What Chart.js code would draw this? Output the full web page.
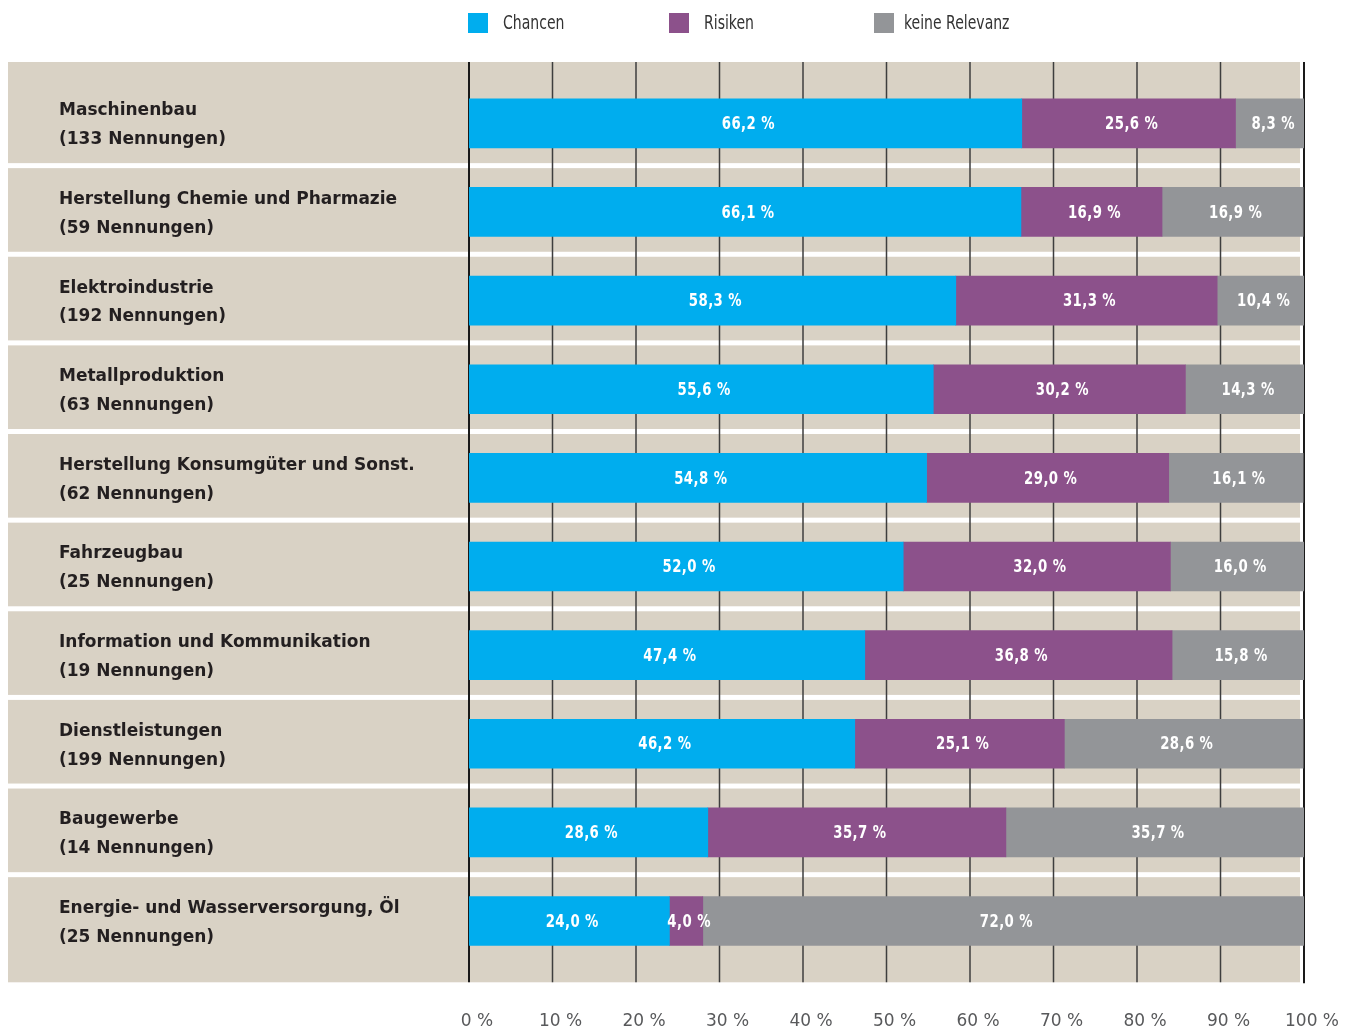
<!DOCTYPE html>
<html>
<head>
<meta charset="utf-8">
<script src="https://cdn.jsdelivr.net/npm/chart.js@4"></script>
<style>
  html, body { margin: 0; padding: 0; background: #ffffff; }
  #wrap { width: 1353px; height: 1028px; }
</style>
</head>
<body>
<div id="wrap"><canvas id="c" width="1353" height="1028"></canvas></div>
<script>
const categories = [
  ["Maschinenbau", "(133 Nennungen)"],
  ["Herstellung Chemie und Pharmazie", "(59 Nennungen)"],
  ["Elektroindustrie", "(192 Nennungen)"],
  ["Metallproduktion", "(63 Nennungen)"],
  ["Herstellung Konsumgüter und Sonst.", "(62 Nennungen)"],
  ["Fahrzeugbau", "(25 Nennungen)"],
  ["Information und Kommunikation", "(19 Nennungen)"],
  ["Dienstleistungen", "(199 Nennungen)"],
  ["Baugewerbe", "(14 Nennungen)"],
  ["Energie- und Wasserversorgung, Öl", "(25 Nennungen)"]
];
const chancen = [66.2, 66.1, 58.3, 55.6, 54.8, 52.0, 47.4, 46.2, 28.6, 24.0];
const risiken = [25.6, 16.9, 31.3, 30.2, 29.0, 32.0, 36.8, 25.1, 35.7, 4.0];
const keineRelevanz = [8.3, 16.9, 10.4, 14.3, 16.1, 16.0, 15.8, 28.6, 35.7, 72.0];
const seriesNames = ["Chancen", "Risiken", "keine Relevanz"];
const seriesColors = ["#00adee", "#8c518b", "#939598"];
const xTicks = [0, 10, 20, 30, 40, 50, 60, 70, 80, 90, 100];

const BEIGE = "#d9d2c5";
const EXT = 17;
const COND = "'Liberation Sans Narrow', 'DejaVu Sans Condensed', sans-serif";

function condensedText(ctx, text, x, y, sx) {
  ctx.save();
  ctx.translate(x, y);
  ctx.scale(sx, 1);
  ctx.fillText(text, 0, 0);
  ctx.restore();
}

const backdrop = {
  id: "backdrop",
  beforeDraw(chart) {
    const ctx = chart.ctx;
    const ca = chart.chartArea;
    const y = chart.scales.y;
    ctx.save();
    ctx.fillStyle = "#ffffff";
    ctx.fillRect(0, 0, chart.width, chart.height);
    const n = categories.length;
    const centers = categories.map((c, i) => y.getPixelForValue(i));
    const sepHalf = 2.5;
    ctx.fillStyle = BEIGE;
    for (let i = 0; i < n; i++) {
      const top = i === 0 ? ca.top - EXT : (centers[i - 1] + centers[i]) / 2 - 2 + sepHalf;
      const bot = i === n - 1 ? ca.bottom + EXT : (centers[i] + centers[i + 1]) / 2 - 2 - sepHalf;
      ctx.fillRect(8, top, (ca.right - 4) - 8, bot - top);
    }
    ctx.restore();
  },
  beforeDatasetsDraw(chart) {
    const ctx = chart.ctx;
    const ca = chart.chartArea;
    const x = chart.scales.x;
    ctx.save();
    xTicks.forEach((v, i) => {
      const px = x.getPixelForValue(v);
      ctx.beginPath();
      if (i === 0 || i === xTicks.length - 1) {
        ctx.strokeStyle = "#1a1a1a";
        ctx.lineWidth = 2;
      } else {
        ctx.strokeStyle = "#3e3e3e";
        ctx.lineWidth = 1.5;
      }
      const yb = (i === xTicks.length - 1) ? ca.bottom + EXT + 1 : ca.bottom + EXT;
      ctx.moveTo(px, ca.top - EXT);
      ctx.lineTo(px, yb);
      ctx.stroke();
    });
    ctx.restore();
  },
  afterDatasetsDraw(chart) {
    const ctx = chart.ctx;
    ctx.save();
    ctx.fillStyle = "#ffffff";
    ctx.font = "bold 18px " + COND;
    ctx.textAlign = "center";
    ctx.textBaseline = "middle";
    try { ctx.letterSpacing = "0.5px"; } catch (e) {}
    chart.data.datasets.forEach((ds, di) => {
      const meta = chart.getDatasetMeta(di);
      meta.data.forEach((bar, i) => {
        const v = ds.data[i];
        const cx = (bar.x + bar.base) / 2;
        condensedText(ctx, v.toFixed(1).replace(".", ",") + " %", cx + 3, bar.y + 1, 0.82);
      });
    });
    ctx.restore();
  },
  afterDraw(chart) {
    const ctx = chart.ctx;
    const ca = chart.chartArea;
    const x0 = ca.left - 1;
    const xs = [x0, x0 + 201, x0 + 406];
    const textGap = [35, 35, 30];
    ctx.save();
    ctx.font = "20px " + COND;
    ctx.textBaseline = "middle";
    ctx.textAlign = "left";
    seriesNames.forEach((name, i) => {
      ctx.fillStyle = seriesColors[i];
      ctx.fillRect(xs[i], 13, 20, 20);
      ctx.fillStyle = "#333333";
      condensedText(ctx, name, xs[i] + textGap[i], 24, 0.78);
    });
    ctx.restore();
  }
};

const datasets = [chancen, risiken, keineRelevanz].map((arr, i) => ({
  label: seriesNames[i],
  data: arr,
  backgroundColor: seriesColors[i],
  borderWidth: 0,
  barThickness: 49
}));

new Chart(document.getElementById("c"), {
  type: "bar",
  data: { labels: categories, datasets },
  plugins: [backdrop],
  options: {
    indexAxis: "y",
    responsive: false,
    animation: false,
    layout: { padding: { left: 59, right: 49, top: 79, bottom: 0 } },
    plugins: {
      legend: { display: false },
      tooltip: { enabled: false }
    },
    scales: {
      x: {
        stacked: true,
        min: 0,
        max: 100,
        position: "bottom",
        grid: { display: false, drawTicks: false },
        border: { display: false },
        afterBuildTicks(scale) { scale.ticks = xTicks.map(v => ({ value: v })); },
        afterFit(scale) {
          scale.height = 62.7;
          scale.paddingLeft = 0;
          scale.paddingRight = 0;
        },
        ticks: {
          padding: 46,
          labelOffset: 8,
          color: "#58595b",
          font: { family: "'DejaVu Sans', sans-serif", size: 17 },
          callback: (v) => v + " %"
        }
      },
      y: {
        stacked: true,
        grid: { display: false, drawTicks: false },
        border: { display: false },
        afterFit(scale) {
          scale.width = 410;
          scale.paddingTop = 0;
          scale.paddingBottom = 0;
        },
        ticks: {
          crossAlign: "far",
          padding: 0,
          labelOffset: 2,
          color: "#231f20",
          font: { family: "'DejaVu Sans', sans-serif", size: 17, weight: "bold", lineHeight: 1.7 }
        }
      }
    }
  }
});
</script>
</body>
</html>
